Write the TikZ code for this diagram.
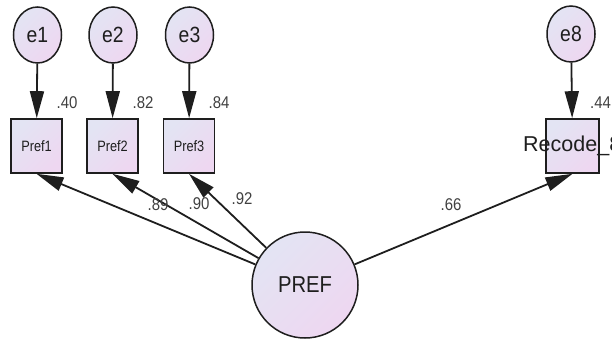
\documentclass[tikz,border=0pt]{standalone}
\usepackage{fontspec}
\setmainfont{Liberation Sans}
\usetikzlibrary{arrows.meta,shapes.geometric}
\definecolor{fillA}{HTML}{E3E4F3}
\definecolor{fillB}{HTML}{EED7F1}
\definecolor{ink}{HTML}{1E1E1E}
% slightly condensed lettering
\newcommand{\narrow}[2][0.88]{\scalebox{#1}[1]{#2}}
\tikzset{
  shaded/.style={top color=fillA, bottom color=fillB, shading angle=45},
  errvar/.style={ellipse, draw=ink, line width=1.5pt, shaded,
    minimum width=48pt, minimum height=56pt, inner sep=0pt,
    font=\fontsize{22}{22}\selectfont, text=ink},
  obsvar/.style={rectangle, draw=ink, line width=1.6pt, shaded,
    minimum width=51pt, minimum height=54pt, inner sep=0pt,
    font=\fontsize{15}{15}\selectfont, text=ink},
  latvar/.style={circle, draw=ink, line width=1.5pt, shaded,
    minimum size=106pt, inner sep=0pt,
    font=\fontsize{23}{23}\selectfont, text=ink},
  path/.style={draw=ink, line width=1.8pt,
    -{Triangle[length=27pt,width=14pt]}},
  coef/.style={font=\fontsize{17}{17}\selectfont, text=ink!85, inner sep=0pt}
}
\begin{document}
\begin{tikzpicture}[x=1pt, y=-1pt]
  \useasboundingbox (0,0) rectangle (612,342);
  \clip (0,0) rectangle (612,342);

  % latent factor
  \node[latvar] (pref) at (305,285) {\narrow{PREF}};

  % indicators
  \node[obsvar] (p1) at (36.5,146) {\narrow[0.85]{Pref1}};
  \node[obsvar] (p2) at (112.5,146) {\narrow[0.85]{Pref2}};
  \node[obsvar] (p3) at (189,146) {\narrow[0.85]{Pref3}};
  \node[obsvar, minimum width=53pt] (p8) at (572.5,146) {};

  % error terms
  \node[errvar] (e1) at (37.5,35) {\narrow{e1}};
  \node[errvar] (e2) at (113,35) {\narrow{e2}};
  \node[errvar] (e3) at (189.5,35) {\narrow{e3}};
  \node[errvar] (e8) at (571,34) {\narrow{e8}};

  % error paths
  \draw[path] (e1) -- (p1);
  \draw[path] (e2) -- (p2);
  \draw[path] (e3) -- (p3);
  \draw[path] (e8) -- (p8);

  % factor loadings
  \draw[path] (pref) -- (p1.south);
  \draw[path] (pref) -- (p2.south);
  \draw[path] (pref) -- (p3.south);
  \draw[path] (pref) -- (p8.south);

  % label of the last indicator runs past its box
  \node[font=\fontsize{21.5}{21.5}\selectfont, text=ink, inner sep=0pt,
        anchor=west] (p8lab) at (523,146) {Recode\_8};

  % squared multiple correlations
  \node[coef] (r1) at (67,103) {\narrow{.40}};
  \node[coef] (r2) at (143,103) {\narrow{.82}};
  \node[coef] (r3) at (219,103) {\narrow{.84}};
  \node[coef, anchor=west] (r8) at (590,103) {\narrow{.44}};

  % standardized loadings
  \node[coef] (l1) at (158,205) {\narrow{.89}};
  \node[coef] (l2) at (199,204) {\narrow{.90}};
  \node[coef] (l3) at (242,199) {\narrow{.92}};
  \node[coef] (l8) at (451,205) {\narrow{.66}};
\end{tikzpicture}
\end{document}
